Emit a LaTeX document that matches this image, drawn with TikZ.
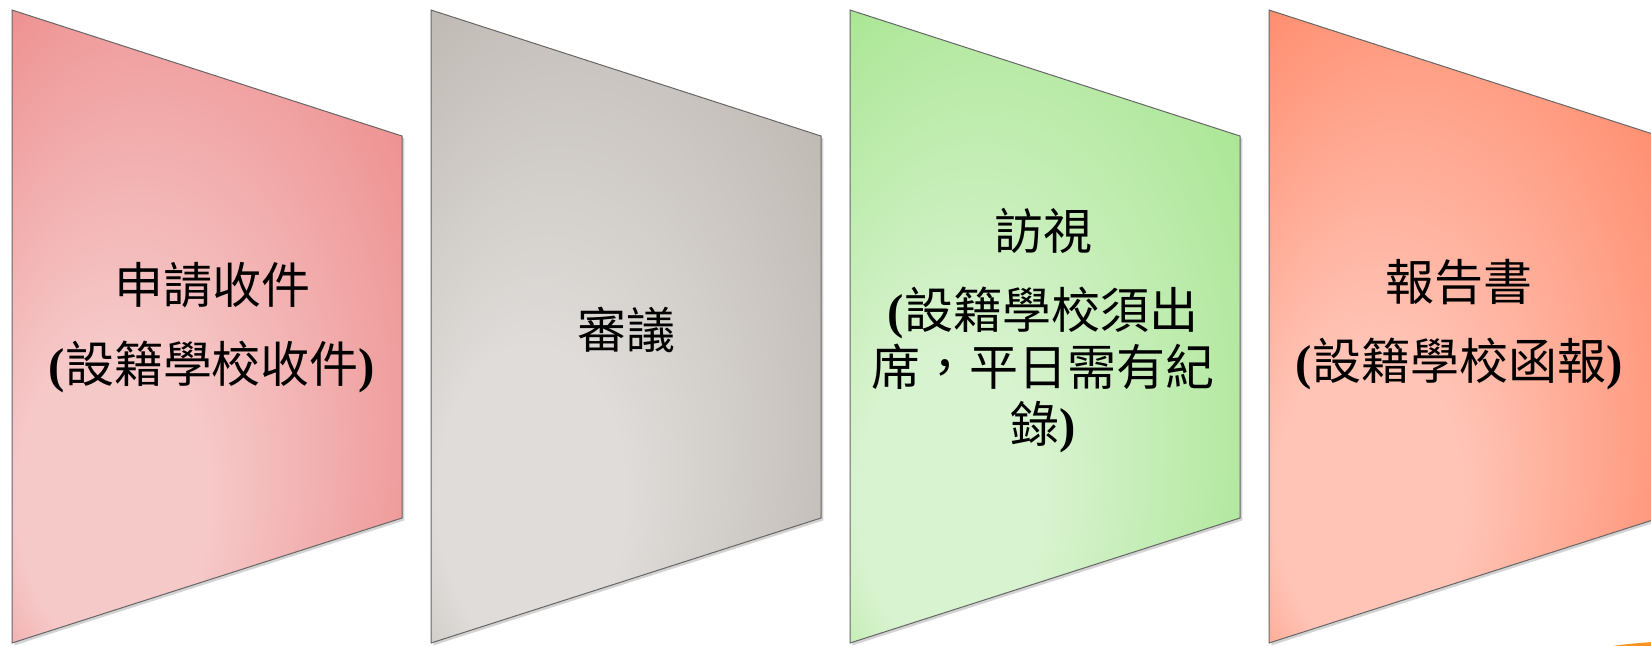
\documentclass[tikz,border=0pt]{standalone}
\usepackage{fontspec}
\setmainfont{Noto Sans CJK TC}
\newfontfamily\parenfont{Liberation Serif}
\usetikzlibrary{shadows}
\definecolor{redlight}{HTML}{F6C9C9}
\definecolor{reddark}{HTML}{EB7B7B}
\definecolor{greylight}{HTML}{DFDCD9}
\definecolor{greydark}{HTML}{B3ACA5}
\definecolor{greenlight}{HTML}{D8F3CF}
\definecolor{greendark}{HTML}{98E17D}
\definecolor{salmonlight}{HTML}{FFC4B6}
\definecolor{salmondark}{HTML}{FF7853}
\definecolor{orangedot}{HTML}{F7941D}
\newcommand{\lpar}{{\parenfont\bfseries(}}
\newcommand{\rpar}{{\parenfont\bfseries)}}
\pgfdeclareradialshading[lightc,darkc]{glow}{\pgfpoint{-16bp}{-18bp}}{color(0bp)=(lightc); color(12bp)=(lightc); color(46bp)=(darkc); color(50bp)=(darkc)}
\tikzset{
	stage/.style={draw=black!60, line width=0.5pt, shading=glow,
		drop shadow={opacity=0.35, shadow xshift=1.2pt, shadow yshift=-1.2pt}},
	stage text/.style={align=center, font=\fontsize{24.5}{28.5}\selectfont}
}

\begin{document}
\begin{tikzpicture}[x=0.5pt, y=-0.5pt]
	\clip (0,0) rectangle (1651,645);
	\foreach \x/\lc/\dc in {0/redlight/reddark, 419/greylight/greydark, 838/greenlight/greendark, 1257/salmonlight/salmondark}{
		\colorlet{lightc}{\lc}\colorlet{darkc}{\dc}
		\path[stage] (12+\x,10) -- (402+\x,136) -- (402+\x,518) -- (12+\x,643) -- cycle;
	}

	\node[stage text] (apply)  at (212,328)  {申請收件\\[11pt]\lpar 設籍學校收件\rpar};
	\node[stage text] (review) at (626,330)  {審議};
	\node[stage text] (visit)  at (1043,331) {訪視\\[11pt]\lpar 設籍學校須出\\席，平日需有紀\\錄\rpar};
	\node[stage text] (report) at (1459,325) {報告書\\[11pt]\lpar 設籍學校函報\rpar};

	\fill[orangedot] (1690,671) ellipse [x radius=140, y radius=30];
\end{tikzpicture}
\end{document}
